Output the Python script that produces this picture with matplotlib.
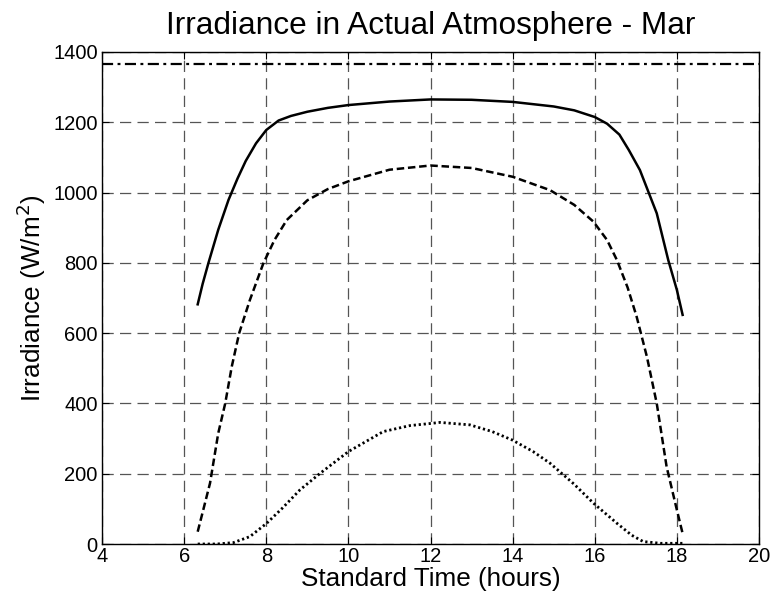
import matplotlib.pyplot as plt

plt.rcParams['font.family'] = ['Liberation Sans', 'DejaVu Sans']

# solar constant (extraterrestrial)
t_const = [4, 20]
g_const = [1367, 1367]

# upper solid curve
t_sol = [6.33, 6.45, 6.59, 6.83, 7.08, 7.3, 7.5, 7.75, 8.0, 8.3, 8.6, 9.0, 9.5, 10.0, 11.0, 12.0,
         13.0, 14.0, 15.0, 15.5, 16.0, 16.3, 16.6, 16.83, 17.1, 17.51, 17.79, 18.0, 18.14]
g_sol = [682, 740, 799, 894, 979, 1040, 1090, 1140, 1178, 1205, 1218, 1230, 1241, 1249, 1259, 1265,
         1264, 1258, 1245, 1234, 1215, 1196, 1165, 1121, 1064, 941, 808, 723, 652]

# dashed curve
t_dash = [6.33, 6.45, 6.63, 6.83, 7.0, 7.16, 7.34, 7.6, 7.93, 8.2, 8.5, 9.0, 9.5, 10.0, 11.0, 12.0,
          13.0, 14.0, 14.91, 15.5, 15.97, 16.3, 16.54, 16.8, 17.02, 17.27, 17.51, 17.75, 18.0, 18.14]
g_dash = [35, 90, 173, 315, 400, 505, 600, 694, 799, 865, 922, 978, 1010, 1032, 1065, 1077,
          1070, 1045, 1007, 965, 917, 865, 808, 730, 647, 533, 400, 220, 97, 30]

# dotted curve
t_dot = [6.33, 6.8, 7.2, 7.6, 8.01, 8.4, 8.82, 9.31, 10.0, 10.85, 11.5, 12.0, 12.23, 12.96, 13.5,
         13.99, 14.5, 14.91, 15.5, 15.97, 16.54, 16.9, 17.18, 17.6, 18.0, 18.14]
g_dot = [0, 0, 4, 21, 59, 103, 154, 201, 263, 320, 337, 343, 346, 339, 320,
         296, 263, 230, 170, 116, 59, 25, 7, 2, 2, 2]

fig = plt.figure(figsize=(7.7, 5.99), dpi=100)
ax = fig.add_axes([0.1325, 0.0918, 0.8532, 0.8214])

ax.plot(t_const, g_const, color='black', lw=1.6, linestyle=(0, (5, 2, 1.3, 2)))
ax.plot(t_sol, g_sol, color='black', lw=1.8, linestyle='-')
ax.plot(t_dash, g_dash, color='black', lw=1.8, linestyle=(0, (3, 1.5)))
ax.plot(t_dot, g_dot, color='black', lw=2.0, linestyle=(0, (0.8, 1.0)))

ax.set_xlim(4, 20)
ax.set_ylim(0, 1400)
ax.set_xticks(range(4, 21, 2))
ax.set_yticks(range(0, 1401, 200))
ax.grid(True, color='#555555', linestyle=(0, (9, 5)), linewidth=0.9)
ax.tick_params(direction='in', top=True, right=True, labelsize=14.5, length=5)
ax.tick_params(axis='x', pad=2)
ax.tick_params(axis='y', pad=3)
for s in ax.spines.values():
    s.set_linewidth(1.0)

ax.set_title('Irradiance in Actual Atmosphere - Mar', fontsize=22.8, pad=13)
ax.set_xlabel('Standard Time (hours)', fontsize=18.8, labelpad=1)
ax.set_ylabel('Irradiance (W/m$^2$)', fontsize=18.8, labelpad=4)

fig.savefig('out.png', dpi=100)
